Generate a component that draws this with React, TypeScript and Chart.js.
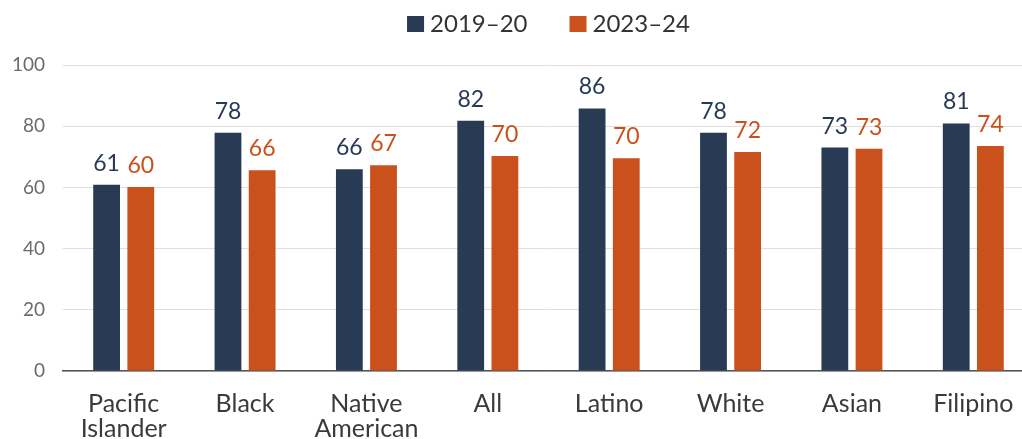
import React, { useEffect, useRef } from "react";
import { Chart, registerables } from "chart.js";

Chart.register(...registerables);

const categories: (string | string[])[] = [
  ["Pacific", "Islander"],
  "Black",
  ["Native", "American"],
  "All",
  "Latino",
  "White",
  "Asian",
  "Filipino",
];
const seriesNames = ["2019–20", "2023–24"];
const series2019 = [60.9, 77.9, 65.9, 81.8, 85.8, 77.9, 73.0, 80.9];
const series2023 = [60.1, 65.6, 67.2, 70.3, 69.5, 71.6, 72.6, 73.5];
const labels2019 = ["61", "78", "66", "82", "86", "78", "73", "81"];
const labels2023 = ["60", "66", "67", "70", "70", "72", "73", "74"];
const yTicks = [0, 20, 40, 60, 80, 100];

const NAVY = "#293a55";
const ORANGE = "#ca501c";
const FONT = "Lato, 'Open Sans', sans-serif";

const dataLabelPlugin = {
  id: "dataLabels",
  afterDatasetsDraw(chart: any) {
    const ctx = chart.ctx;
    const labelSets = [labels2019, labels2023];
    const colors = [NAVY, ORANGE];
    chart.data.datasets.forEach((_ds: any, di: number) => {
      const meta = chart.getDatasetMeta(di);
      meta.data.forEach((el: any, i: number) => {
        ctx.save();
        ctx.font = `23px ${FONT}`;
        ctx.fillStyle = colors[di];
        ctx.textAlign = "center";
        ctx.textBaseline = "alphabetic";
        ctx.fillText(labelSets[di][i], el.x, el.y - 14);
        ctx.restore();
      });
    });
  },
};

const legendPlugin = {
  id: "customLegend",
  afterDraw(chart: any) {
    const ctx = chart.ctx;
    const area = chart.chartArea;
    const colors = [NAVY, ORANGE];
    const boxW = 17;
    const boxH = 16;
    const gap = 6;
    const itemGap = 42;
    ctx.save();
    ctx.font = `24px ${FONT}`;
    const widths = seriesNames.map((n) => ctx.measureText(n).width);
    const total =
      widths.reduce((a, w) => a + boxW + gap + w, 0) + itemGap * (seriesNames.length - 1);
    let x = (area.left + area.right) / 2 - total / 2;
    const baseline = 32;
    seriesNames.forEach((name, i) => {
      ctx.fillStyle = colors[i];
      ctx.fillRect(x, baseline - boxH, boxW, boxH);
      x += boxW + gap;
      ctx.fillStyle = "#333333";
      ctx.textAlign = "left";
      ctx.textBaseline = "alphabetic";
      ctx.fillText(name, x, baseline);
      x += widths[i] + itemGap;
    });
    ctx.restore();
  },
};

export default function App() {
  const ref = useRef<HTMLCanvasElement>(null);
  useEffect(() => {
    if (!ref.current) return;
    const chart = new Chart(ref.current, {
      type: "bar",
      data: {
        labels: categories,
        datasets: [
          {
            label: seriesNames[0],
            data: series2019,
            backgroundColor: NAVY,
            categoryPercentage: 0.563,
            barPercentage: 0.784,
          },
          {
            label: seriesNames[1],
            data: series2023,
            backgroundColor: ORANGE,
            categoryPercentage: 0.563,
            barPercentage: 0.784,
          },
        ],
      },
      options: {
        animation: false,
        responsive: false,
        maintainAspectRatio: false,
        layout: { padding: { left: 0, right: 6, top: 65, bottom: 0 } },
        plugins: {
          legend: { display: false },
          tooltip: { enabled: false },
        },
        scales: {
          x: {
            afterFit: (s: any) => {
              s.height = 68;
            },
            grid: { display: false, drawTicks: false },
            border: { display: true, color: "#555555", width: 1.5 },
            ticks: {
              color: "#3a3a3a",
              padding: 20,
              font: { family: FONT, size: 25, lineHeight: 1.0 },
              maxRotation: 0,
              autoSkip: false,
            },
          },
          y: {
            min: 0,
            max: 100,
            afterFit: (s: any) => {
              s.width = 63;
            },
            afterBuildTicks: (s: any) => {
              s.ticks = yTicks.map((v) => ({ value: v }));
            },
            grid: { color: "#dedede", lineWidth: 1, drawTicks: false },
            border: { display: false },
            ticks: {
              color: "#6b6b6b",
              padding: 18,
              font: { family: FONT, size: 19 },
            },
          },
        },
      },
      plugins: [dataLabelPlugin, legendPlugin],
    });
    return () => chart.destroy();
  }, []);
  return (
    <div
      style={{
        position: "fixed",
        left: 0,
        top: 0,
        width: 1022,
        height: 439,
        overflow: "hidden",
        background: "#ffffff",
      }}
    >
      <canvas
        ref={ref}
        width={1040}
        height={439}
        style={{ width: 1040, height: 439, display: "block" }}
      />
    </div>
  );
}
